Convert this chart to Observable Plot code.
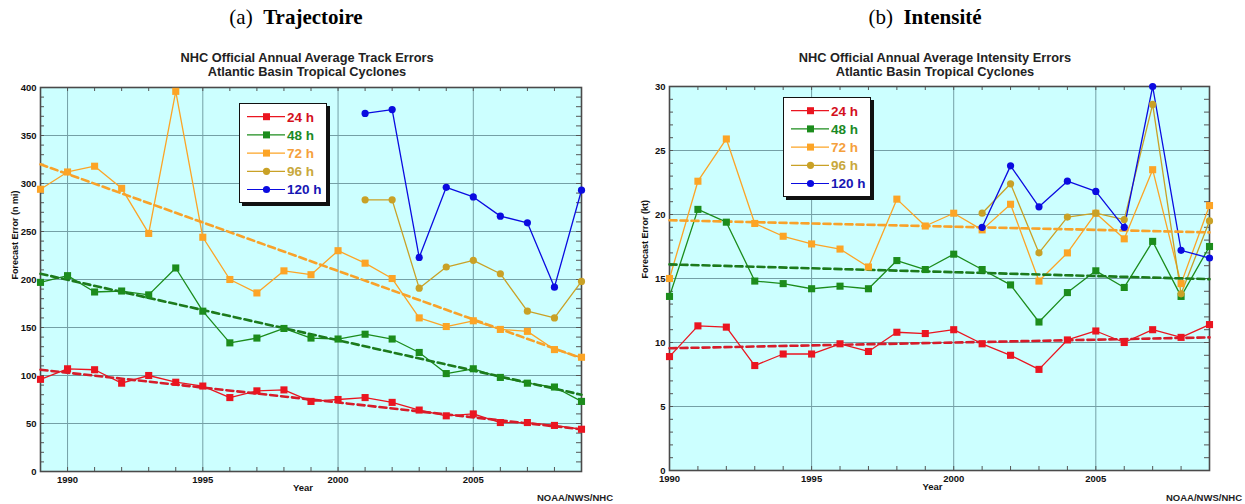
<!DOCTYPE html>
<html>
<head>
<meta charset="utf-8">
<script src="https://cdn.jsdelivr.net/npm/d3@7"></script>
<script src="https://cdn.jsdelivr.net/npm/@observablehq/plot@0.6"></script>
<style>
html,body{margin:0;padding:0;background:#fff;}
body{width:1245px;height:504px;position:relative;overflow:hidden;font-family:"Liberation Sans",Arial,Helvetica,sans-serif;}
.abs{position:absolute;}
.ptitle{top:3px;font-family:"Liberation Serif","Times New Roman",serif;font-size:21px;line-height:28px;color:#000;white-space:nowrap;transform:translateX(-50%);}
.ctitle{top:51px;font-weight:bold;font-size:12.8px;line-height:14px;color:#222;text-align:center;white-space:nowrap;transform:translateX(-50%);}
.credit{top:492px;font-weight:bold;font-size:9.5px;line-height:12px;color:#222;white-space:nowrap;transform:translateX(-100%);}
.legend{box-sizing:border-box;background:#fff;border:1px solid #111;box-shadow:3px 3px 0 #111;}
.legend svg{display:block;}
.panel svg{font-family:"Liberation Sans",Arial,sans-serif;font-weight:bold;}
</style>
</head>
<body>
<div id="p1" class="abs panel" style="left:0;top:0"></div>
<div id="p2" class="abs panel" style="left:622px;top:0"></div>
<div class="abs ptitle" style="left:296px">(a)&nbsp;&nbsp;<b>Trajectoire</b></div>
<div class="abs ptitle" style="left:925px">(b)&nbsp;&nbsp;<b>Intensité</b></div>
<div class="abs ctitle" style="left:307px">NHC Official Annual Average Track Errors<br>Atlantic Basin Tropical Cyclones</div>
<div class="abs ctitle" style="left:935px">NHC Official Annual Average Intensity Errors<br>Atlantic Basin Tropical Cyclones</div>
<div class="abs credit" style="left:613px">NOAA/NWS/NHC</div>
<div class="abs credit" style="left:1242px">NOAA/NWS/NHC</div>
<script>
// ---------- series definitions ----------
const seriesNames = ["24 h", "48 h", "72 h", "96 h", "120 h"];
const seriesSymbols = ["square", "square", "square", "circle", "circle"];
const lineColors = ["#ea1520", "#1c8c1c", "#fca426", "#c9a126", "#0b0be0"];
const legendTextColors = ["#d4101c", "#1a8a26", "#f5a03c", "#c8a83c", "#1616b4"];
const trendColors = ["#d61c2a", "#1c7a1c", "#f8a22a"];

// ---------- (a) track errors, n mi ----------
const trackYears = [1989, 1990, 1991, 1992, 1993, 1994, 1995, 1996, 1997, 1998, 1999, 2000, 2001, 2002, 2003, 2004, 2005, 2006, 2007, 2008, 2009];
const track24 = [96, 107, 106, 92, 100, 93, 89, 77, 84, 85, 73, 75, 77, 72, 64, 58, 60, 51, 51, 48, 44];
const track48 = [197, 204, 187, 188, 184, 212, 167, 134, 139, 149, 139, 138, 143, 138, 124, 102, 107, 98, 92, 88, 73];
const track72 = [294, 312, 318, 295, 248, 396, 244, 200, 186, 209, 205, 230, 217, 201, 160, 151, 157, 148, 146, 127, 119];
const trackLongYears = [2001, 2002, 2003, 2004, 2005, 2006, 2007, 2008, 2009];
const track96 = [283, 283, 191, 213, 220, 206, 167, 160, 198];
const track120 = [373, 377, 223, 296, 286, 266, 259, 192, 293];
const trackTrendYears = [1989, 2009];
const trackTrend24 = [106, 44];
const trackTrend48 = [206, 80];
const trackTrend72 = [320, 118];
const trackXTicks = [1990, 1995, 2000, 2005];
const trackYTicks = [0, 50, 100, 150, 200, 250, 300, 350, 400];

// ---------- (b) intensity errors, kt ----------
const intYears = [1990, 1991, 1992, 1993, 1994, 1995, 1996, 1997, 1998, 1999, 2000, 2001, 2002, 2003, 2004, 2005, 2006, 2007, 2008, 2009];
const int24 = [8.9, 11.3, 11.2, 8.2, 9.1, 9.1, 9.9, 9.3, 10.8, 10.7, 11.0, 9.9, 9.0, 7.9, 10.2, 10.9, 10.0, 11.0, 10.4, 11.4];
const int48 = [13.6, 20.4, 19.4, 14.8, 14.6, 14.2, 14.4, 14.2, 16.4, 15.7, 16.9, 15.7, 14.5, 11.6, 13.9, 15.6, 14.3, 17.9, 13.6, 17.5];
const int72 = [15.0, 22.6, 25.9, 19.3, 18.3, 17.7, 17.3, 15.9, 21.2, 19.1, 20.1, 18.8, 20.8, 14.8, 17.0, 20.1, 18.1, 23.5, 14.6, 20.7];
const intLongYears = [2001, 2002, 2003, 2004, 2005, 2006, 2007, 2008, 2009];
const int96 = [20.1, 22.4, 17.0, 19.8, 20.1, 19.6, 28.6, 13.8, 19.5];
const int120 = [19.0, 23.8, 20.6, 22.6, 21.8, 19.0, 30.0, 17.2, 16.6];
const intTrendYears = [1990, 2009];
const intTrend24 = [9.55, 10.4];
const intTrend48 = [16.1, 14.95];
const intTrend72 = [19.55, 18.6];
const intXTicks = [1990, 1995, 2000, 2005];
const intYTicks = [0, 5, 10, 15, 20, 25, 30];

function rows(years, values) { return years.map((year, i) => ({year, value: values[i]})); }

function panel(o) {
  const height = 504;
  const fw = o.width - o.ml - o.mr, fh = height - o.mt - o.mb;
  const minor = d3.range(o.yDomain[0], o.yDomain[1] + 1e-9, o.minorStep);
  const tickColor = "#555";
  const gridColor = "#74a0a6";
  const marks = [
    Plot.frame({fill: "#ccffff", stroke: null}),
    Plot.gridX({ticks: o.xTicks, stroke: gridColor, strokeOpacity: 1, strokeWidth: 1}),
    Plot.gridY({ticks: o.yTicks, stroke: gridColor, strokeOpacity: 1, strokeWidth: 1}),
    Plot.tickY(minor, {y: d => d, insetRight: fw - 4, stroke: tickColor}),
    Plot.tickY(minor, {y: d => d, insetLeft: fw - 5, stroke: tickColor}),
    Plot.tickX(o.allYears, {x: d => d, insetBottom: fh - 4, stroke: tickColor}),
    Plot.tickX(o.allYears, {x: d => d, insetTop: fh - 4, stroke: tickColor}),
    Plot.frame({stroke: "#4a4a4a", strokeWidth: 1.6}),
    Plot.axisX({ticks: o.xTicks, tickSize: 0, tickPadding: 5, tickFormat: d => String(d), label: null, fontSize: 9.5, fontWeight: "bold", fill: "#111"}),
    Plot.axisY({ticks: o.yTicks, tickSize: 0, tickPadding: 4, tickFormat: d => String(d), label: null, fontSize: 9.5, fontWeight: "bold", fill: "#111"})
  ];
  o.series.forEach(s => marks.push(Plot.line(s.data, {x: "year", y: "value", stroke: lineColors[s.i], strokeWidth: 1.3})));
  o.trends.forEach(t => marks.push(Plot.line(t.data, {x: "year", y: "value", stroke: trendColors[t.i], strokeWidth: 2.6, strokeDasharray: "7,4"})));
  o.series.forEach(s => marks.push(Plot.dot(s.data, {x: "year", y: "value", fill: lineColors[s.i], symbol: seriesSymbols[s.i], r: seriesSymbols[s.i] === "square" ? 4 : 3.6})));
  marks.push(Plot.text([o.yLabel], {frameAnchor: "left", rotate: -90, dx: o.yLabelDx, fontSize: 9, fontWeight: "bold", fill: "#111"}));
  marks.push(Plot.text(["Year"], {frameAnchor: "bottom", dy: 19, dx: o.yearDx, fontSize: 9.5, fontWeight: "bold", fill: "#111"}));
  return Plot.plot({
    width: o.width, height,
    marginLeft: o.ml, marginRight: o.mr, marginTop: o.mt, marginBottom: o.mb,
    x: {domain: o.xDomain, axis: null},
    y: {domain: o.yDomain, axis: null},
    style: {background: "transparent", overflow: "visible"},
    marks
  });
}

function legend(left, top) {
  const w = 88, h = 100;
  const div = document.createElement("div");
  div.className = "abs legend";
  div.style.left = left + "px"; div.style.top = top + "px";
  div.style.width = w + "px"; div.style.height = h + "px";
  const svg = d3.create("svg").attr("width", w - 2).attr("height", h - 2);
  seriesNames.forEach((name, i) => {
    const y = 12.7 + i * 18.2;
    svg.append("line").attr("x1", 7).attr("x2", 45).attr("y1", y).attr("y2", y).attr("stroke", lineColors[i]).attr("stroke-width", 1.2);
    if (seriesSymbols[i] === "square") svg.append("rect").attr("x", 23).attr("y", y - 3.5).attr("width", 7).attr("height", 7).attr("fill", lineColors[i]);
    else svg.append("circle").attr("cx", 26.5).attr("cy", y).attr("r", 3.6).attr("fill", lineColors[i]);
    svg.append("text").attr("x", 47).attr("y", y).attr("dy", "0.36em").attr("fill", legendTextColors[i])
      .attr("font-family", "Liberation Sans, Arial, sans-serif").attr("font-weight", "bold").attr("font-size", 13.5).text(name);
  });
  div.appendChild(svg.node());
  document.body.appendChild(div);
}

document.getElementById("p1").appendChild(panel({
  width: 622, ml: 40, mr: 41, mt: 87, mb: 33,
  xDomain: [1989, 2009], yDomain: [0, 400], xTicks: trackXTicks, yTicks: trackYTicks, minorStep: 10,
  allYears: trackYears,
  series: [
    {i: 0, data: rows(trackYears, track24)},
    {i: 1, data: rows(trackYears, track48)},
    {i: 2, data: rows(trackYears, track72)},
    {i: 3, data: rows(trackLongYears, track96)},
    {i: 4, data: rows(trackLongYears, track120)}
  ],
  trends: [
    {i: 0, data: rows(trackTrendYears, trackTrend24)},
    {i: 1, data: rows(trackTrendYears, trackTrend48)},
    {i: 2, data: rows(trackTrendYears, trackTrend72)}
  ],
  yLabel: "Forecast Error (n mi)", yLabelDx: -25, yearDx: -8
}));

document.getElementById("p2").appendChild(panel({
  width: 623, ml: 47, mr: 36, mt: 86, mb: 34,
  xDomain: [1990, 2009], yDomain: [0, 30], xTicks: intXTicks, yTicks: intYTicks, minorStep: 1,
  allYears: intYears,
  series: [
    {i: 0, data: rows(intYears, int24)},
    {i: 1, data: rows(intYears, int48)},
    {i: 2, data: rows(intYears, int72)},
    {i: 3, data: rows(intLongYears, int96)},
    {i: 4, data: rows(intLongYears, int120)}
  ],
  trends: [
    {i: 0, data: rows(intTrendYears, intTrend24)},
    {i: 1, data: rows(intTrendYears, intTrend48)},
    {i: 2, data: rows(intTrendYears, intTrend72)}
  ],
  yLabel: "Forecast Error (kt)", yLabelDx: -24, yearDx: -7
}));

legend(239, 103);
legend(783, 97);
</script>
</body>
</html>
